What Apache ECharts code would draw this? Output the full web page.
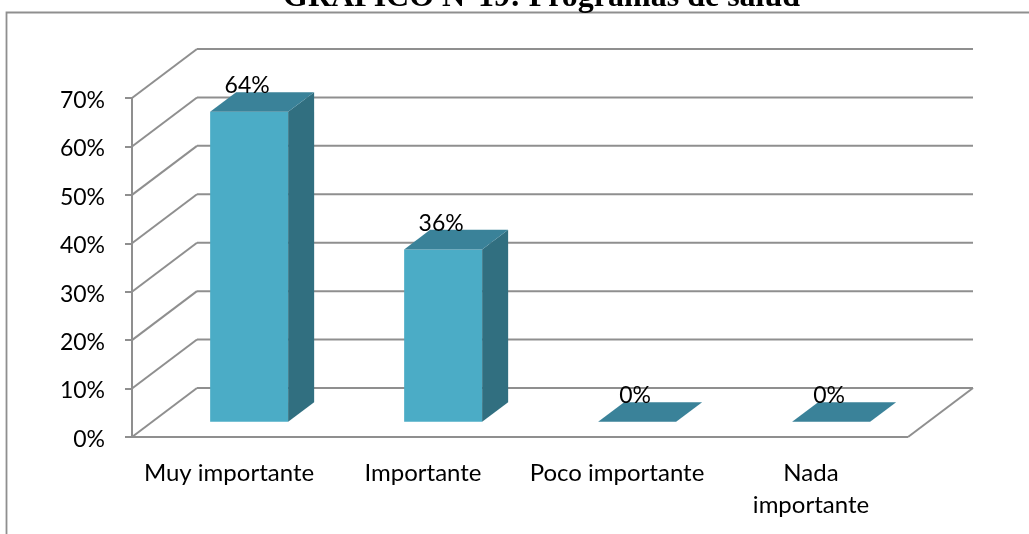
<!DOCTYPE html>
<html><head><meta charset="utf-8">
<style>html,body{margin:0;padding:0;background:#fff}#c{width:1029px;height:534px}</style>
<script src="https://cdn.jsdelivr.net/npm/echarts@6/dist/echarts.min.js"></script>
</head><body><div id="c"></div>
<script>
const titleText = 'GRÁFICO N°19: Programas de salud';
const categories = ['Muy importante', 'Importante', 'Poco importante', 'Nada\nimportante'];
const values = [64, 35.6, 0, 0];
const valueLabels = ['64%', '36%', '0%', '0%'];
const ticks = [0, 10, 20, 30, 40, 50, 60, 70];

const DEPTH_X = 65, DEPTH_Y = 49;      // full floor depth
const BAR_FRONT = 0.31, BAR_DEPTH = 0.40; // where the bar sits in that depth
const BAR_W = 78;
const GRID_COLOR = '#8f8f8f';
const FRONT = '#4bacc6', TOP = '#3a8299', SIDE = '#316f80';
const FONT = 'Lato';

const chart = echarts.init(document.getElementById('c'), null, {renderer: 'canvas'});
const poly = (pts, fill) => ({type: 'polygon', shape: {points: pts}, style: {fill: fill}});

function renderWall(params, api) {
  const v = api.value(0);
  const cs = params.coordSys;
  const y = api.coord([0, v])[1];
  const xl = cs.x, xr = cs.x + cs.width;
  const line = (x1, y1, x2, y2) => ({type: 'line', shape: {x1, y1, x2, y2},
    style: {stroke: GRID_COLOR, lineWidth: 2}});
  const kids = [
    line(xl, y, xl + DEPTH_X, y - DEPTH_Y),
    line(xl + DEPTH_X, y - DEPTH_Y, xr + DEPTH_X, y - DEPTH_Y)
  ];
  if (v === 0) {
    kids.push(line(xr, y, xr + DEPTH_X, y - DEPTH_Y));
    kids.push(line(xl, y, xr, y));
  }
  return {type: 'group', children: kids};
}

function renderBar(params, api) {
  const idx = api.value(0), val = api.value(1);
  const base = api.coord([idx, 0]);
  const top = api.coord([idx, val]);
  const ox = DEPTH_X * BAR_FRONT, oy = DEPTH_Y * BAR_FRONT;
  const dx = DEPTH_X * BAR_DEPTH, dy = DEPTH_Y * BAR_DEPTH;
  const l = base[0] + ox - BAR_W / 2, r = l + BAR_W;
  const yb = base[1] - oy, yt = top[1] - oy;
  const kids = [];
  if (val > 0) {
    kids.push(poly([[l, yt], [r, yt], [r, yb], [l, yb]], FRONT));
    kids.push(poly([[r, yt], [r + dx, yt - dy], [r + dx, yb - dy], [r, yb]], SIDE));
  }
  kids.push(poly([[l, yt], [l + dx, yt - dy], [r + dx, yt - dy], [r, yt]], TOP));
  kids.push({type: 'text', style: {
    text: valueLabels[idx], x: (l + r) / 2 - 2, y: yt - dy + 5,
    align: 'center', verticalAlign: 'bottom',
    font: '23px ' + FONT + ', sans-serif', fill: '#000'
  }});
  return {type: 'group', children: kids};
}

chart.setOption({
  animation: false,
  backgroundColor: '#fff',
  title: {text: titleText, left: 278, top: -23,
    textStyle: {fontFamily: 'Liberation Serif', fontWeight: 'bold', fontSize: 32, color: '#000'}},
  graphic: [
    {type: 'polyline', silent: true, shape: {points: [[6.5, 534], [6.5, 12.5], [1029, 12.5]]},
     style: {fill: null, stroke: GRID_COLOR, lineWidth: 1.8}}
  ],
  grid: {left: 132, right: 121, top: 98, bottom: 97},
  xAxis: {type: 'category', data: categories,
    axisLine: {show: false}, axisTick: {show: false},
    axisLabel: {margin: 20, fontFamily: FONT, fontSize: 24, lineHeight: 32, color: '#000', interval: 0}},
  yAxis: {type: 'value', min: 0, max: 70, interval: 10,
    splitLine: {show: false},
    axisLine: {show: true, lineStyle: {color: GRID_COLOR, width: 2}},
    axisTick: {show: true, length: 7, lineStyle: {color: GRID_COLOR, width: 2}},
    axisLabel: {formatter: '{a|{value}%}', margin: 27, rich: {a: {
      padding: [5, 0, 0, 0], fontFamily: FONT, fontSize: 23, color: '#000'}}}},
  series: [
    {type: 'custom', coordinateSystem: 'cartesian2d', renderItem: renderWall, clip: false, silent: true,
     encode: {y: 0}, data: ticks.map(t => [t]), z: 1},
    {type: 'custom', coordinateSystem: 'cartesian2d', renderItem: renderBar, clip: false, silent: true,
     encode: {x: 0, y: 1}, data: values.map((v, i) => [i, v]), z: 2}
  ]
});
</script></body></html>
